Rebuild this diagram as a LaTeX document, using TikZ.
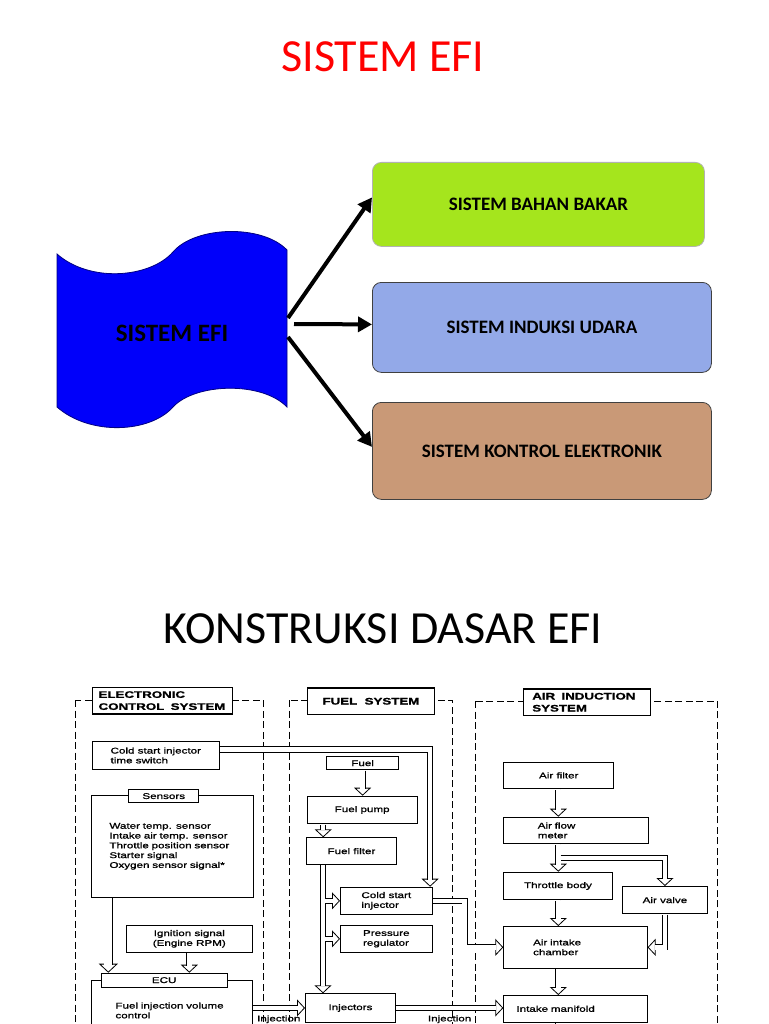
\documentclass[tikz,border=0pt]{standalone}
\usepackage{fontspec}
\setmainfont{Carlito}
\newfontfamily\scanfont[FakeStretch=1.4,FakeBold=1.2]{Liberation Sans}
\usepackage{tikz}
\usetikzlibrary{arrows.meta,calc,positioning}

\definecolor{limebox}{RGB}{165,229,29}
\definecolor{bluebox}{RGB}{147,169,232}
\definecolor{brownbox}{RGB}{201,153,119}
\definecolor{wavefill}{RGB}{0,0,250}

\begin{document}
\begin{tikzpicture}[x=1pt,y=-1pt,
  sys/.style={draw=black!75,line width=0.8pt,rounded corners=9pt,fill=#1,anchor=north west,font=\bfseries\fontsize{19}{22}\selectfont},
  link/.style={line width=4pt,-{Triangle[length=14pt,width=15pt]}},
  zone/.style={draw,line width=0.9pt,dash pattern=on 7pt off 3.5pt},
  head/.style={draw,line width=1.2pt,fill=white,anchor=north west,inner sep=0pt,font=\scanfont\bfseries\fontsize{9.5}{12}\selectfont},
  part/.style={draw,line width=0.9pt,fill=white,anchor=north west,inner sep=0pt,align=left,font=\scanfont\fontsize{8.3}{9.8}\selectfont},
  lbl/.style={font=\scanfont\fontsize{8.3}{9.8}\selectfont,inner sep=1pt},
  pipe/.style={draw,line width=0.8pt,shorten <=0.45pt,double=white,double distance=4.5pt},
  flow/.style={draw,line width=0.8pt,dash pattern=on 0pt off 900pt,-{Triangle[open,length=8pt,width=17pt]},
    postaction={draw,solid,-,shorten <=0.45pt,shorten >=7pt,double=white,double distance=4.5pt}},
  fatflow/.style={draw,line width=0.8pt,dash pattern=on 0pt off 900pt,-{Triangle[open,length=9pt,width=19pt]},
    postaction={draw,solid,-,shorten <=0.45pt,shorten >=8pt,double=white,double distance=8pt}}]
  \clip (0,0) rectangle (768,1024);
  \useasboundingbox (0,0) rectangle (768,1024);
  \fill[white] (0,0) rectangle (768,1024);

  \node[text=red,font=\fontsize{46}{50}\selectfont] (title) at (383,57) {SISTEM EFI};
  \filldraw[fill=wavefill,draw=blue!50!black,line width=0.8pt]
    (57,254) .. controls (90,283) and (150,278) .. (173,252) .. controls (195,226) and (262,224) .. (287,250)
    -- (287,407) .. controls (262,381) and (195,383) .. (173,407) .. controls (150,433) and (90,436) .. (57,407) -- cycle;
  \node[font=\bfseries\fontsize{25}{28}\selectfont] (efi) at (172,333) {SISTEM EFI};
  \node[sys=limebox,draw=black!30,minimum width=332pt,minimum height=84pt] (bb) at (372,162) {SISTEM BAHAN BAKAR};
  \node[sys=bluebox,minimum width=339pt,minimum height=90pt] (iu) at (372,282) {SISTEM INDUKSI UDARA};
  \node[sys=brownbox,minimum width=339pt,minimum height=97pt] (ke) at (372,402) {SISTEM KONTROL ELEKTRONIK};
  \coordinate (w1) at (288,318);
  \coordinate (w2) at (294,324);
  \coordinate (w3) at (288,337);
  \draw[link] (w1) -- ([yshift=7pt]bb.west);
  \draw[link] (w2) -- ([yshift=3pt]iu.west);
  \draw[link] (w3) -- ([yshift=4pt]ke.west);

  \node[font=\fontsize{46}{50}\selectfont] (konst) at (383,629) {KONSTRUKSI DASAR EFI};

  \draw[zone] (75,700) rectangle (263,1040);
  \draw[zone] (289.3,700) rectangle (452.3,1040);
  \draw[zone] (475,701) rectangle (717.3,1040);
  \node[head,text width=127.4pt,inner xsep=6.3pt,minimum height=26.6pt,align=left] (ecst) at (91.7,686.7) {ELECTRONIC\\CONTROL\ \ SYSTEM};
  \node[head,minimum width=127.3pt,minimum height=26.7pt] (fst) at (306.7,687.3) {FUEL\ \ SYSTEM};
  \node[head,text width=109.3pt,inner xsep=9pt,minimum height=26.7pt,align=left] (aist) at (522.7,688.3) {AIR\ \ INDUCTION\\SYSTEM};

  \node[part,minimum width=127.3pt,minimum height=28pt] (csits) at (91.7,741) {Cold start injector\\time switch};
  \node[part,text width=125.7pt,inner xsep=18pt,minimum height=101.7pt] (sens) at (91,795)
    {Water temp. sensor\\Intake air temp. sensor\\Throttle position sensor\\Starter signal\\Oxygen sensor signal*};
  \node[part,minimum width=70pt,minimum height=13.3pt] (senstab) at (128.3,789) {Sensors};
  \node[part,align=center,minimum width=125.7pt,minimum height=26.7pt] (ign) at (126,925) {Ignition signal\\(Engine RPM)};
  \node[part,text width=112.3pt,inner xsep=24.3pt,minimum height=60pt] (ecu) at (90.7,980) {Fuel injection volume\\control};
  \node[part,minimum width=126pt,minimum height=14pt] (eculab) at (100.7,972.7) {ECU};

  \node[part,minimum width=72.3pt,minimum height=13.3pt] (fuel) at (326,756) {Fuel};
  \node[part,minimum width=110pt,minimum height=27.6pt] (pump) at (306.7,795.7) {Fuel pump};
  \node[part,minimum width=90pt,minimum height=26.7pt] (filt) at (306,837.3) {Fuel filter};
  \node[part,minimum width=91.7pt,minimum height=27.3pt] (csi) at (340,886.7) {Cold start\\injector};
  \node[part,minimum width=91.7pt,minimum height=26.7pt] (pr) at (340,925) {Pressure\\regulator};
  \node[part,minimum width=90pt,minimum height=28.4pt] (inj) at (305,993.3) {Injectors};

  \node[part,minimum width=110pt,minimum height=26.6pt] (af) at (503.3,761.7) {Air filter};
  \node[part,text width=77pt,inner xsep=34pt,minimum height=26.6pt] (afm) at (503.3,816.7) {Air flow\\meter};
  \node[part,minimum width=108.4pt,minimum height=27.6pt] (tb) at (503.3,871.7) {Throttle body};
  \node[part,minimum width=85.6pt,minimum height=27.3pt] (av) at (621.7,886) {Air valve};
  \node[part,text width=84.6pt,inner xsep=29.4pt,minimum height=41.7pt] (aic) at (503.3,926) {Air intake\\chamber};
  \node[part,text width=118pt,inner xsep=12.7pt,minimum height=26.7pt] (man) at (503.3,995) {Intake manifold};

  \draw[flow] ([yshift=6pt]csits.east) -| ([xshift=-2.5pt]csi.north east);
  \coordinate (sc) at ([xshift=17.3pt]sens.south west);
  \draw[fatflow] (sc) -- (sc |- eculab.north);
  \draw[flow] (ign.south) -- (ign.south |- eculab.north);
  \draw[flow] (ecu.east |- inj.west) -- node[lbl,below=6pt] {Injection} (inj.west);

  \draw[flow] (fuel.south) -- (fuel.south |- pump.north);
  \coordinate (fp) at ([xshift=16.5pt]pump.south west);
  \draw[flow] (fp) -- (fp |- filt.north);
  \coordinate (ff) at ([xshift=17pt]filt.south west);
  \draw[flow] (ff) -- (ff |- inj.north);
  \draw[flow] ($(ff |- csi.west)+(1.8pt,0)$) -- (csi.west);
  \draw[flow] ($(ff |- pr.west)+(1.8pt,0)$) -- (pr.west);
  \draw[flow] (csi.east) -- ++(32,0) |- (aic.west);
  \draw[flow] (inj.east) -- node[lbl,below=6pt] {Injection} (inj.east -| man.west);

  \draw[flow] ([xshift=55pt]af.south west) -- ([xshift=55pt]afm.north west);
  \coordinate (al) at ([xshift=55pt]afm.south west);
  \draw[flow] (al) -- ([xshift=55pt]tb.north west);
  \draw[flow] ($(al)+(1.8pt,-14pt)$) -| (av.north);
  \draw[flow] (av.south) |- (aic.east);
  \draw[flow] ([xshift=55pt]tb.south west) -- ([xshift=55pt]aic.north west);
  \draw[flow] ([xshift=55pt]aic.south west) -- ([xshift=55pt]man.north west);
  \draw[pipe] ([xshift=55pt]man.south west) -- ++(0,20);
\end{tikzpicture}
\end{document}
